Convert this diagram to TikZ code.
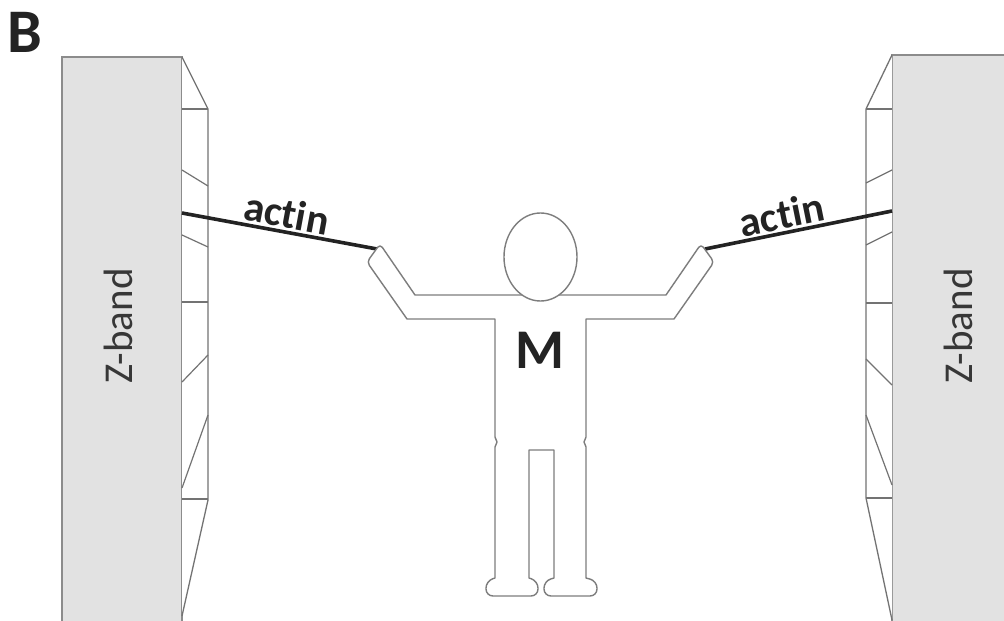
\documentclass[tikz,border=0pt]{standalone}
\usepackage{fontspec}
\usetikzlibrary{shapes.geometric}
\setmainfont{Carlito}[Ligatures={NoCommon,NoContextual}]
\definecolor{zfill}{RGB}{226,226,226}
\definecolor{zedge}{RGB}{140,140,140}
\definecolor{panelline}{RGB}{115,115,115}
\definecolor{figline}{RGB}{125,125,125}
\definecolor{zbtext}{RGB}{55,55,55}
\definecolor{ink}{RGB}{35,35,35}
\begin{document}
\begin{tikzpicture}[x=1pt,y=-1pt,
  zband/.style={draw=zedge, fill=zfill, line width=1.4pt},
  sidepanel/.style={draw=panelline, fill=white, line width=1.3pt, line join=round},
  crossline/.style={draw=panelline, line width=1.2pt},
  body/.style={draw=figline, fill=white, line width=1.4pt, line join=round},
  actinline/.style={draw=ink, line width=3.6pt},
  actinlabel/.style={font=\bfseries\fontsize{42}{42}\selectfont, text=ink, sloped, above, inner sep=2pt},
  zlabel/.style={rotate=90, font=\fontsize{41}{41}\selectfont, text=zbtext, inner sep=0pt},
]
\useasboundingbox (0,0) rectangle (1004,621);
\fill[white] (0,0) rectangle (1004,621);
\clip (0,0) rectangle (1004,621);

% panel letter
\node[font=\bfseries\fontsize{62}{62}\selectfont, text=ink, inner sep=0pt] (panel) at (25,32) {B};

% left Z-band block and its side face
\draw[zband] (62,57) rectangle (182,640);
\draw[sidepanel] (182,57) -- (208,109) -- (208,500) -- (182,616);
\draw[crossline] (182,109) -- (208,109);
\draw[crossline] (182,170) -- (208,186);
\draw[crossline] (182,235) -- (208,247);
\draw[crossline] (182,302) -- (208,302);
\draw[crossline] (182,382) -- (208,355);
\draw[crossline] (182,488) -- (208,415);
\draw[crossline] (182,499) -- (208,499);
\node[zlabel] (zl) at (118,326) {Z-band};

% right Z-band block and its side face
\draw[zband] (892,55) rectangle (1020,640);
\draw[sidepanel] (892,55) -- (866,109) -- (866,498) -- (892,620);
\draw[crossline] (866,109) -- (892,109);
\draw[crossline] (866,183) -- (892,170);
\draw[crossline] (866,245) -- (892,232);
\draw[crossline] (866,303) -- (892,303);
\draw[crossline] (866,359) -- (892,385);
\draw[crossline] (866,415) -- (892,485);
\draw[crossline] (866,498) -- (892,498);
\node[zlabel] (zr) at (958,326) {Z-band};

% anchor points of the actin filaments
\coordinate (zla) at (182,213);
\coordinate (hla) at (377,249);
\coordinate (hra) at (705,249);
\coordinate (zra) at (892,211);

\draw[actinline] (zla) -- node[actinlabel, pos=0.52] (al) {act\kern0pt in} (hla);
\draw[actinline] (hra) -- node[actinlabel, pos=0.43] (ar) {act\kern0pt in} (zra);

% the M-band figure
\draw[body]
  (540,295) -- (415,295)
  [rounded corners=4pt] -- (380,244) -- (367,262) [sharp corners]
  -- (407,319) -- (495,319) -- (495,437) -- (497,442) -- (495,447) -- (495,578)
  [rounded corners=7pt] -- (486,581) -- (486,596) -- (538,596) -- (538,581) [sharp corners]
  -- (529,578) -- (529,450) -- (554,450) -- (554,578)
  [rounded corners=7pt] -- (544,581) -- (544,596) -- (597,596) -- (597,581) [sharp corners]
  -- (586,578) -- (586,447) -- (584,442) -- (586,437) -- (586,319) -- (674,319)
  [rounded corners=4pt] -- (714,262) -- (701,244) [sharp corners]
  -- (666,295) -- cycle;
\node[draw=figline, fill=white, line width=1.4pt, ellipse, minimum width=73pt, minimum height=88pt, inner sep=0pt] (head) at (540.5,257) {};
\node[font=\bfseries\fontsize{56}{56}\selectfont, text=ink, inner sep=0pt] (m) at (540,350) {M};
\end{tikzpicture}
\end{document}
